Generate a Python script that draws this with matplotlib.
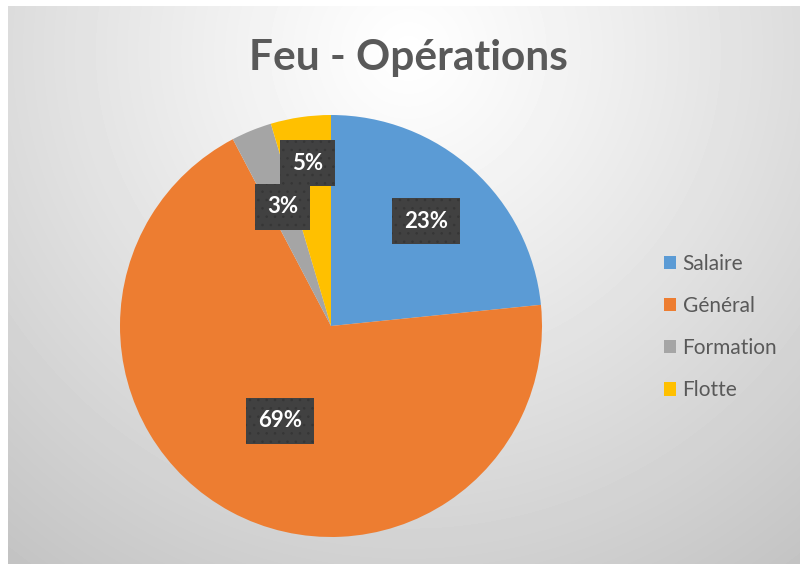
import numpy as np
import matplotlib
matplotlib.use("Agg")
import matplotlib.pyplot as plt

plt.rcParams['font.family'] = ['Lato', 'DejaVu Sans']
plt.rcParams['hatch.linewidth'] = 0.6

# data
categories = ['Salaire', 'Général', 'Formation', 'Flotte']
shares = [23.4, 68.9, 3.1, 4.6]
colors = ['#5B9BD5', '#ED7D31', '#A5A5A5', '#FFC000']
label_dist = [0.67, 0.51, 0.61, 0.78]   # where each percentage box sits

fig = plt.figure(figsize=(8, 5.64), dpi=100)
fig.patch.set_facecolor('white')

# grey radial background like the Excel chart style
bg = fig.add_axes([8 / 800, 0, 792 / 800, 558 / 564])
yy, xx = np.mgrid[0:558, 0:792]
d = np.hypot(xx - 400, yy - 45) / 660
shade = 1.0 - 0.24 * np.clip(d, 0, 1) ** 1.1
bg.imshow(shade, cmap='gray', vmin=0, vmax=1, aspect='auto')
bg.axis('off')

fig.text(0.51, 0.898, 'Feu - Opérations', ha='center', va='center',
         fontsize=30.5, fontweight='bold', color='#595959')

ax = fig.add_axes([120 / 800, (564 - 326 - 211) / 564, 422 / 800, 422 / 564])
wedges, texts, autotexts = ax.pie(
    shares, colors=colors, startangle=90, counterclock=False,
    autopct=lambda p: '{:.0f}%'.format(p), pctdistance=0.6,
    wedgeprops=dict(linewidth=0),
    textprops=dict(color='white', fontsize=16, fontweight='bold'))
ax.set_aspect('equal')
ax.set_xlim(-1, 1)
ax.set_ylim(-1, 1)

for w, t, r in zip(wedges, autotexts, label_dist):
    ang = np.deg2rad((w.theta1 + w.theta2) / 2)
    t.set_position((r * np.cos(ang), r * np.sin(ang)))
    t.set_bbox(dict(boxstyle='square,pad=0.55', facecolor='#414141',
                    edgecolor='#363636', hatch='..', linewidth=0))

leg = fig.legend(wedges, categories, loc='center left',
                 bbox_to_anchor=(645 / 800, 1 - 327 / 564),
                 frameon=False, fontsize=15, labelspacing=1.07,
                 handlelength=0.6, handleheight=0.6, handletextpad=0.3)
for t in leg.get_texts():
    t.set_color('#595959')

fig.savefig('out.png', dpi=100)
